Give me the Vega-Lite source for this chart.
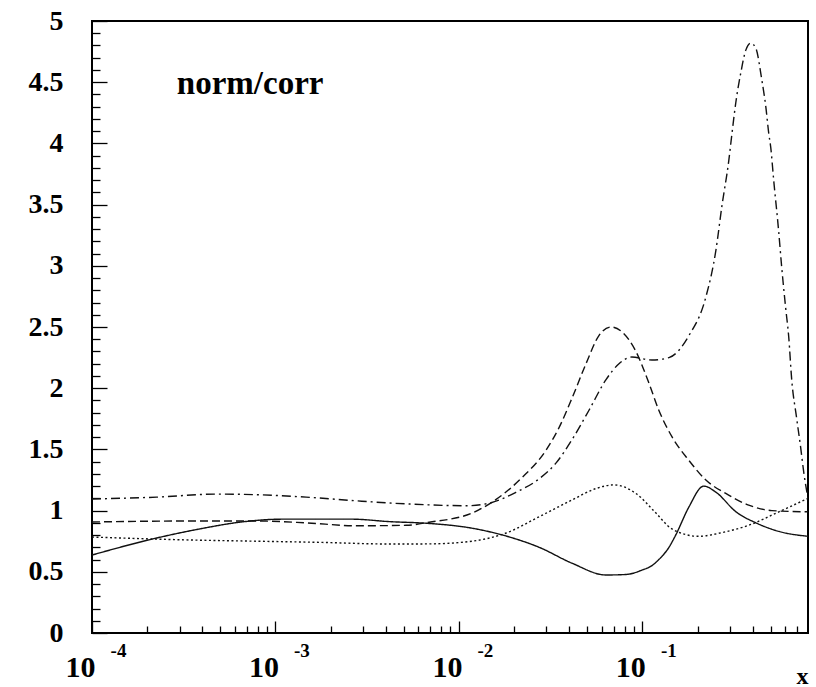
{
  "$schema": "https://vega.github.io/schema/vega-lite/v6.json",
  "width": 716,
  "height": 612,
  "autosize": "none",
  "padding": {"left": 92, "top": 21, "right": 8, "bottom": 54},
  "background": "white",
  "config": {
    "view": {"stroke": "black", "strokeWidth": 2},
    "axis": {"domain": false, "grid": false, "tickColor": "black", "tickWidth": 1.3, "labelColor": "black", "labelFont": "Liberation Serif, Times New Roman, serif", "labelFontWeight": "bold"}
  },
  "datasets": {
    "curves": [
      {"series": "solid", "x": 0.0001, "y": 0.637},
      {"series": "solid", "x": 0.000225, "y": 0.776},
      {"series": "solid", "x": 0.000386, "y": 0.85},
      {"series": "solid", "x": 0.000637, "y": 0.905},
      {"series": "solid", "x": 0.00109, "y": 0.93},
      {"series": "solid", "x": 0.00262, "y": 0.93},
      {"series": "solid", "x": 0.00418, "y": 0.91},
      {"series": "solid", "x": 0.00689, "y": 0.895},
      {"series": "solid", "x": 0.0114, "y": 0.86},
      {"series": "solid", "x": 0.0188, "y": 0.785},
      {"series": "solid", "x": 0.0274, "y": 0.70},
      {"series": "solid", "x": 0.0414, "y": 0.57},
      {"series": "solid", "x": 0.0634, "y": 0.474},
      {"series": "solid", "x": 0.0815, "y": 0.478},
      {"series": "solid", "x": 0.1, "y": 0.515},
      {"series": "solid", "x": 0.1127, "y": 0.55},
      {"series": "solid", "x": 0.123, "y": 0.60},
      {"series": "solid", "x": 0.1397, "y": 0.70},
      {"series": "solid", "x": 0.152, "y": 0.80},
      {"series": "solid", "x": 0.1795, "y": 1.03},
      {"series": "solid", "x": 0.216, "y": 1.20},
      {"series": "solid", "x": 0.252, "y": 1.15},
      {"series": "solid", "x": 0.324, "y": 0.99},
      {"series": "solid", "x": 0.416, "y": 0.90},
      {"series": "solid", "x": 0.555, "y": 0.83},
      {"series": "solid", "x": 0.8, "y": 0.79},

      {"series": "dotted", "x": 0.0001, "y": 0.784},
      {"series": "dotted", "x": 0.00034, "y": 0.76},
      {"series": "dotted", "x": 0.000787, "y": 0.75},
      {"series": "dotted", "x": 0.0018, "y": 0.74},
      {"series": "dotted", "x": 0.00418, "y": 0.727},
      {"series": "dotted", "x": 0.00689, "y": 0.728},
      {"series": "dotted", "x": 0.0118, "y": 0.75},
      {"series": "dotted", "x": 0.0181, "y": 0.817},
      {"series": "dotted", "x": 0.0274, "y": 0.95},
      {"series": "dotted", "x": 0.0414, "y": 1.087},
      {"series": "dotted", "x": 0.0558, "y": 1.18},
      {"series": "dotted", "x": 0.070, "y": 1.21},
      {"series": "dotted", "x": 0.0923, "y": 1.14},
      {"series": "dotted", "x": 0.1186, "y": 0.98},
      {"series": "dotted", "x": 0.145, "y": 0.85},
      {"series": "dotted", "x": 0.203, "y": 0.79},
      {"series": "dotted", "x": 0.271, "y": 0.82},
      {"series": "dotted", "x": 0.38, "y": 0.88},
      {"series": "dotted", "x": 0.555, "y": 0.99},
      {"series": "dotted", "x": 0.8, "y": 1.10},

      {"series": "dashed", "x": 0.0001, "y": 0.907},
      {"series": "dashed", "x": 0.00034, "y": 0.915},
      {"series": "dashed", "x": 0.000787, "y": 0.915},
      {"series": "dashed", "x": 0.00147, "y": 0.90},
      {"series": "dashed", "x": 0.00275, "y": 0.876},
      {"series": "dashed", "x": 0.00516, "y": 0.88},
      {"series": "dashed", "x": 0.00689, "y": 0.905},
      {"series": "dashed", "x": 0.0118, "y": 0.98},
      {"series": "dashed", "x": 0.0152, "y": 1.07},
      {"series": "dashed", "x": 0.0221, "y": 1.27},
      {"series": "dashed", "x": 0.0299, "y": 1.495},
      {"series": "dashed", "x": 0.0352, "y": 1.68},
      {"series": "dashed", "x": 0.0414, "y": 1.92},
      {"series": "dashed", "x": 0.0493, "y": 2.2},
      {"series": "dashed", "x": 0.058, "y": 2.43},
      {"series": "dashed", "x": 0.0675, "y": 2.5},
      {"series": "dashed", "x": 0.0775, "y": 2.46},
      {"series": "dashed", "x": 0.0923, "y": 2.30},
      {"series": "dashed", "x": 0.1087, "y": 2.04},
      {"series": "dashed", "x": 0.123, "y": 1.82},
      {"series": "dashed", "x": 0.1455, "y": 1.60},
      {"series": "dashed", "x": 0.1795, "y": 1.41},
      {"series": "dashed", "x": 0.222, "y": 1.25},
      {"series": "dashed", "x": 0.285, "y": 1.14},
      {"series": "dashed", "x": 0.38, "y": 1.045},
      {"series": "dashed", "x": 0.508, "y": 1.0},
      {"series": "dashed", "x": 0.8, "y": 0.99},

      {"series": "dashdot", "x": 0.0001, "y": 1.095},
      {"series": "dashdot", "x": 0.000225, "y": 1.11},
      {"series": "dashdot", "x": 0.000478, "y": 1.135},
      {"series": "dashdot", "x": 0.000787, "y": 1.13},
      {"series": "dashdot", "x": 0.00147, "y": 1.11},
      {"series": "dashdot", "x": 0.00275, "y": 1.08},
      {"series": "dashdot", "x": 0.00516, "y": 1.055},
      {"series": "dashdot", "x": 0.011, "y": 1.04},
      {"series": "dashdot", "x": 0.0146, "y": 1.06},
      {"series": "dashdot", "x": 0.0205, "y": 1.15},
      {"series": "dashdot", "x": 0.0274, "y": 1.26},
      {"series": "dashdot", "x": 0.0339, "y": 1.39},
      {"series": "dashdot", "x": 0.0414, "y": 1.58},
      {"series": "dashdot", "x": 0.0512, "y": 1.82},
      {"series": "dashdot", "x": 0.0634, "y": 2.07},
      {"series": "dashdot", "x": 0.0746, "y": 2.2},
      {"series": "dashdot", "x": 0.0877, "y": 2.255},
      {"series": "dashdot", "x": 0.1127, "y": 2.23},
      {"series": "dashdot", "x": 0.1397, "y": 2.25},
      {"series": "dashdot", "x": 0.1795, "y": 2.43},
      {"series": "dashdot", "x": 0.222, "y": 2.745},
      {"series": "dashdot", "x": 0.252, "y": 3.13},
      {"series": "dashdot", "x": 0.271, "y": 3.48},
      {"series": "dashdot", "x": 0.296, "y": 3.86},
      {"series": "dashdot", "x": 0.308, "y": 4.08},
      {"series": "dashdot", "x": 0.323, "y": 4.33},
      {"series": "dashdot", "x": 0.344, "y": 4.575},
      {"series": "dashdot", "x": 0.366, "y": 4.76},
      {"series": "dashdot", "x": 0.390, "y": 4.82},
      {"series": "dashdot", "x": 0.415, "y": 4.78},
      {"series": "dashdot", "x": 0.448, "y": 4.52},
      {"series": "dashdot", "x": 0.471, "y": 4.30},
      {"series": "dashdot", "x": 0.489, "y": 4.08},
      {"series": "dashdot", "x": 0.501, "y": 3.97},
      {"series": "dashdot", "x": 0.520, "y": 3.70},
      {"series": "dashdot", "x": 0.553, "y": 3.29},
      {"series": "dashdot", "x": 0.575, "y": 2.99},
      {"series": "dashdot", "x": 0.604, "y": 2.66},
      {"series": "dashdot", "x": 0.628, "y": 2.42},
      {"series": "dashdot", "x": 0.652, "y": 2.07},
      {"series": "dashdot", "x": 0.693, "y": 1.76},
      {"series": "dashdot", "x": 0.729, "y": 1.52},
      {"series": "dashdot", "x": 0.759, "y": 1.31},
      {"series": "dashdot", "x": 0.8, "y": 1.10}
    ],
    "label": [{"x": 0.00029, "y": 4.4, "text": "norm/corr"}]
  },
  "resolve": {"axis": {"x": "independent", "y": "independent"}},
  "layer": [
    {
      "data": {"name": "curves"},
      "mark": {"type": "line", "interpolate": "monotone", "strokeWidth": 1.4, "color": "#111", "clip": true},
      "encoding": {
        "x": {"field": "x", "type": "quantitative", "scale": {"type": "log", "domain": [0.0001, 0.8], "nice": false},
          "axis": {"orient": "bottom", "values": [0.0001, 0.001, 0.01, 0.1], "labelExpr": "'10'", "labelFontSize": 30, "tickSize": -12, "labelPadding": 31, "labelOffset": -12, "labelBaseline": "top", "labelFlush": false, "labelOverlap": false,
            "title": "x", "titleFont": "Liberation Serif, Times New Roman, serif", "titleFontWeight": "bold", "titleFontSize": 24, "titleColor": "black", "titleX": 716, "titleY": 50, "titleAlign": "right", "titleBaseline": "alphabetic"}},
        "y": {"field": "y", "type": "quantitative", "scale": {"domain": [0, 5], "nice": false},
          "axis": {"orient": "left", "values": [0, 0.5, 1, 1.5, 2, 2.5, 3, 3.5, 4, 4.5, 5], "format": "~g", "labelFontSize": 28, "tickSize": -15, "labelPadding": 44, "labelFlush": false, "labelOverlap": false, "title": null}},
        "strokeDash": {"field": "series", "type": "nominal", "legend": null,
          "scale": {"domain": ["solid", "dotted", "dashed", "dashdot"], "range": [[1, 0], [2, 2.5], [8, 4], [9, 4, 2, 4]]}}
      }
    },
    {
      "data": {"name": "label"},
      "mark": {"type": "text", "font": "Liberation Serif, Times New Roman, serif", "fontWeight": "bold", "fontSize": 33, "align": "left", "baseline": "alphabetic", "color": "black"},
      "encoding": {
        "x": {"field": "x", "type": "quantitative", "scale": {"type": "log", "domain": [0.0001, 0.8], "nice": false},
          "axis": {"orient": "bottom", "values": [0.0001, 0.001, 0.01, 0.1], "labelExpr": "'-' + round(-log(datum.value)/LN10)", "labelFontSize": 19, "tickSize": 0, "ticks": false, "labelPadding": 8, "labelOffset": 26, "labelBaseline": "top", "labelFlush": false, "labelOverlap": false, "title": null}},
        "y": {"field": "y", "type": "quantitative", "scale": {"domain": [0, 5], "nice": false},
          "axis": {"orient": "left", "values": [0.1,0.2,0.3,0.4,0.6,0.7,0.8,0.9,1.1,1.2,1.3,1.4,1.6,1.7,1.8,1.9,2.1,2.2,2.3,2.4,2.6,2.7,2.8,2.9,3.1,3.2,3.3,3.4,3.6,3.7,3.8,3.9,4.1,4.2,4.3,4.4,4.6,4.7,4.8,4.9], "labels": false, "tickSize": -8, "title": null}},
        "text": {"field": "text"}
      }
    },
    {
      "data": {"name": "label"},
      "mark": {"type": "point", "opacity": 0},
      "encoding": {
        "x": {"field": "x", "type": "quantitative", "scale": {"type": "log", "domain": [0.0001, 0.8], "nice": false},
          "axis": {"orient": "bottom", "values": [0.0002,0.0003,0.0004,0.0005,0.0006,0.0007,0.0008,0.0009,0.002,0.003,0.004,0.005,0.006,0.007,0.008,0.009,0.02,0.03,0.04,0.05,0.06,0.07,0.08,0.09,0.2,0.3,0.4,0.5,0.6,0.7], "labels": false, "tickSize": -7, "title": null}}
      }
    }
  ]
}
